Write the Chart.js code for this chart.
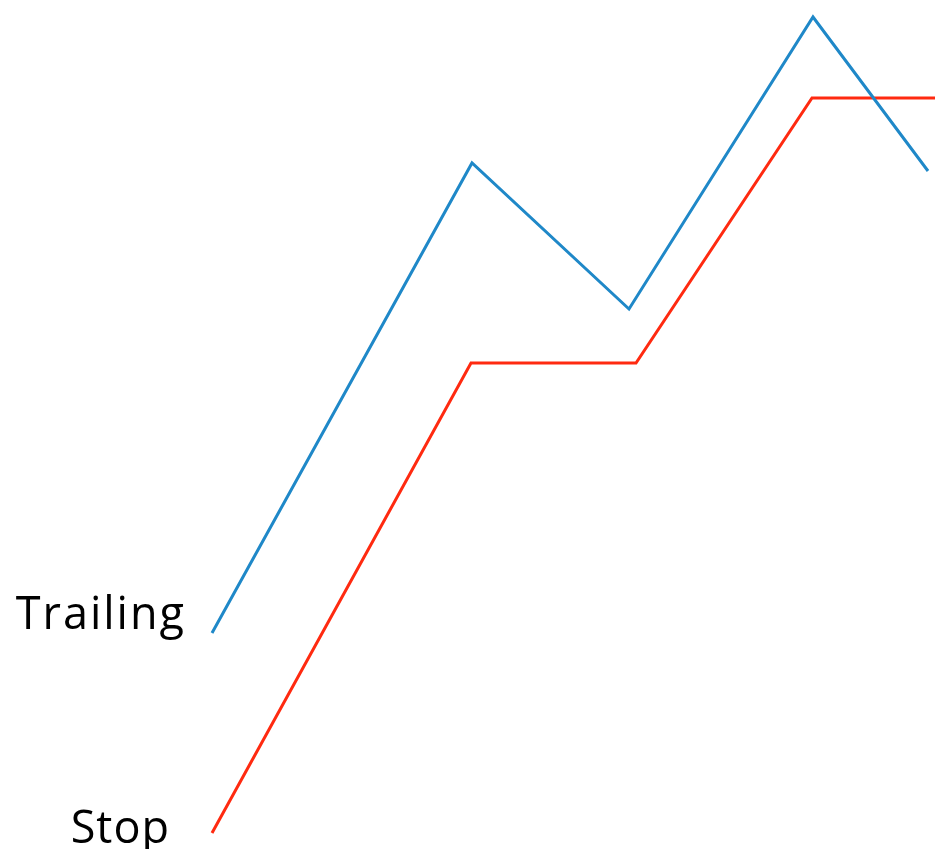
<!DOCTYPE html>
<html>
<head>
<meta charset="utf-8">
<script src="https://cdn.jsdelivr.net/npm/chart.js@4"></script>
<style>
  html, body { margin: 0; padding: 0; background: #fff; }
  #wrap { position: relative; width: 935px; height: 849px; overflow: hidden; }
  canvas { position: absolute; left: 0; top: 0; }
  .lbl { position: absolute; font-family: 'Open Sans', Lato, sans-serif; font-weight: 500; font-size: 45px; color: #000; text-align: right; line-height: 1; }
</style>
</head>
<body>
<div id="wrap">
  <canvas id="chart" width="935" height="849"></canvas>
  <div class="lbl" id="lbl-trailing" style="right:749px; top:589px; letter-spacing:2px;">Trailing</div>
  <div class="lbl" id="lbl-stop" style="right:765px; top:803px; letter-spacing:1px;">Stop</div>
</div>
<script>
  // ── Data (x = time units, y = price units) ──
  const priceX = [0, 260, 417, 601, 716];
  const priceY = [200, 670, 524, 816, 662];
  const stopX = [0, 259, 424, 600, 723];
  const stopY = [0, 470, 470, 735, 735];

  function toPoints(xs, ys) {
    return xs.map(function(x, i) { return { x: x, y: ys[i] }; });
  }

  new Chart(document.getElementById('chart'), {
    type: 'line',
    data: {
      datasets: [
        { label: 'Trailing', data: toPoints(priceX, priceY), borderColor: '#1f88c8', borderWidth: 3, pointRadius: 0, tension: 0, clip: false },
        { label: 'Stop', data: toPoints(stopX, stopY), borderColor: '#ff2a10', borderWidth: 3, pointRadius: 0, tension: 0, clip: false }
      ]
    },
    options: {
      responsive: false,
      animation: false,
      layout: { padding: { left: 212, right: 0, top: 17, bottom: 16 } },
      plugins: { legend: { display: false }, tooltip: { enabled: false } },
      scales: {
        x: { type: 'linear', min: 0, max: 723, display: false },
        y: { min: 0, max: 816, display: false }
      }
    }
  });
</script>
</body>
</html>
